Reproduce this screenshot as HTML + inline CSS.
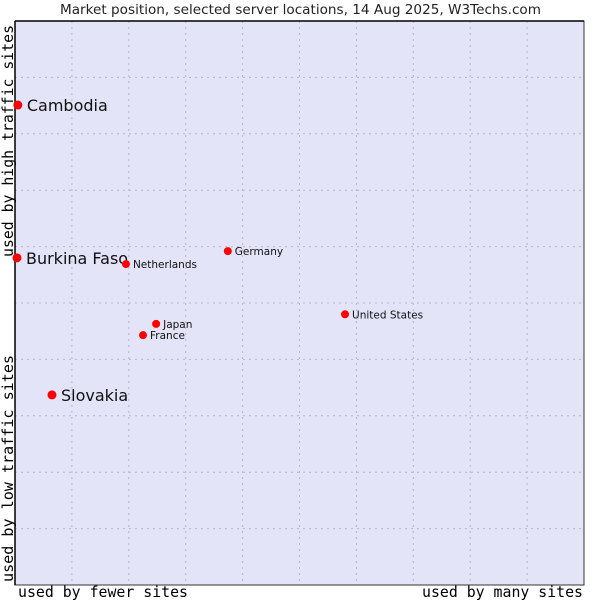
<!DOCTYPE html>
<html><head><meta charset="utf-8"><style>
body{margin:0;background:#fff;}
svg{display:block;font-family:"DejaVu Sans","Liberation Sans",sans-serif;}
</style></head><body>
<svg id="chart" width="600" height="600">
<text x="60" y="14" textLength="481" lengthAdjust="spacingAndGlyphs" font-size="13.5" fill="#222">Market position, selected server locations, 14 Aug 2025, W3Techs.com</text>
<rect x="15" y="21" width="569" height="564" fill="#e3e4f8" stroke="#333" stroke-width="1"/>
<g id="grid"></g>
<line x1="15" y1="21" x2="15" y2="585" stroke="#000" stroke-width="1.5"/>
<line x1="15" y1="21" x2="584" y2="21" stroke="#000" stroke-width="1.5"/>
<text x="18" y="597" textLength="170" lengthAdjust="spacingAndGlyphs" font-family="DejaVu Sans Mono,Liberation Mono,monospace" font-size="15" fill="#000">used by fewer sites</text>
<text x="422" y="597" textLength="161" lengthAdjust="spacingAndGlyphs" font-family="DejaVu Sans Mono,Liberation Mono,monospace" font-size="15" fill="#000">used by many sites</text>
<text transform="translate(13,582) rotate(-90)" textLength="227" lengthAdjust="spacingAndGlyphs" font-family="DejaVu Sans Mono,Liberation Mono,monospace" font-size="15" fill="#000">used by low traffic sites</text>
<text transform="translate(13,257) rotate(-90)" textLength="232" lengthAdjust="spacingAndGlyphs" font-family="DejaVu Sans Mono,Liberation Mono,monospace" font-size="15" fill="#000">used by high traffic sites</text>
<g id="points"></g>
</svg>
<script>
const names=["Cambodia","Burkina Faso","Netherlands","Germany","United States","Japan","France","Slovakia"];
const xVals=[0.5,0.35,19.5,37.4,58.0,24.8,22.5,6.5];
const yVals=[85.1,58.0,56.9,59.2,48.0,46.3,44.3,33.7];
const bigLabel=[true,true,false,false,false,false,false,true];
const NS="http://www.w3.org/2000/svg";
const X=v=>15+v/100*569, Y=v=>585-v/100*564;
const grid=document.getElementById('grid');
for(let i=1;i<10;i++){
  const gx=15+i*569/10, gy=21+i*564/10;
  const l1=document.createElementNS(NS,'line');
  
  
  l1.setAttribute('x1',gx);l1.setAttribute('x2',gx);l1.setAttribute('y1',21);l1.setAttribute('y2',585);
  l1.setAttribute('stroke','#b8b8c0');l1.setAttribute('stroke-dasharray','2,4');grid.appendChild(l1);
  const l2=document.createElementNS(NS,'line');
  
  
  l2.setAttribute('y1',gy);l2.setAttribute('y2',gy);l2.setAttribute('x1',15);l2.setAttribute('x2',584);
  l2.setAttribute('stroke','#b8b8c0');l2.setAttribute('stroke-dasharray','2,4');grid.appendChild(l2);
}
const pts=document.getElementById('points');
names.forEach((n,i)=>{
  const cx=X(xVals[i]), cy=Y(yVals[i]);
  const c=document.createElementNS(NS,'circle');
  
  
  c.setAttribute('cx',cx);c.setAttribute('cy',cy);c.setAttribute('r',bigLabel[i]?4.5:4);
  c.setAttribute('fill','#ff0000');pts.appendChild(c);
  const t=document.createElementNS(NS,'text');
  
  
  t.setAttribute('x',cx+(bigLabel[i]?9:7));t.setAttribute('y',cy+(bigLabel[i]?6:4));
  t.setAttribute('font-size',bigLabel[i]?16:10.5);t.setAttribute('fill','#111');
  t.textContent=n;pts.appendChild(t);
});
</script>
</body></html>
